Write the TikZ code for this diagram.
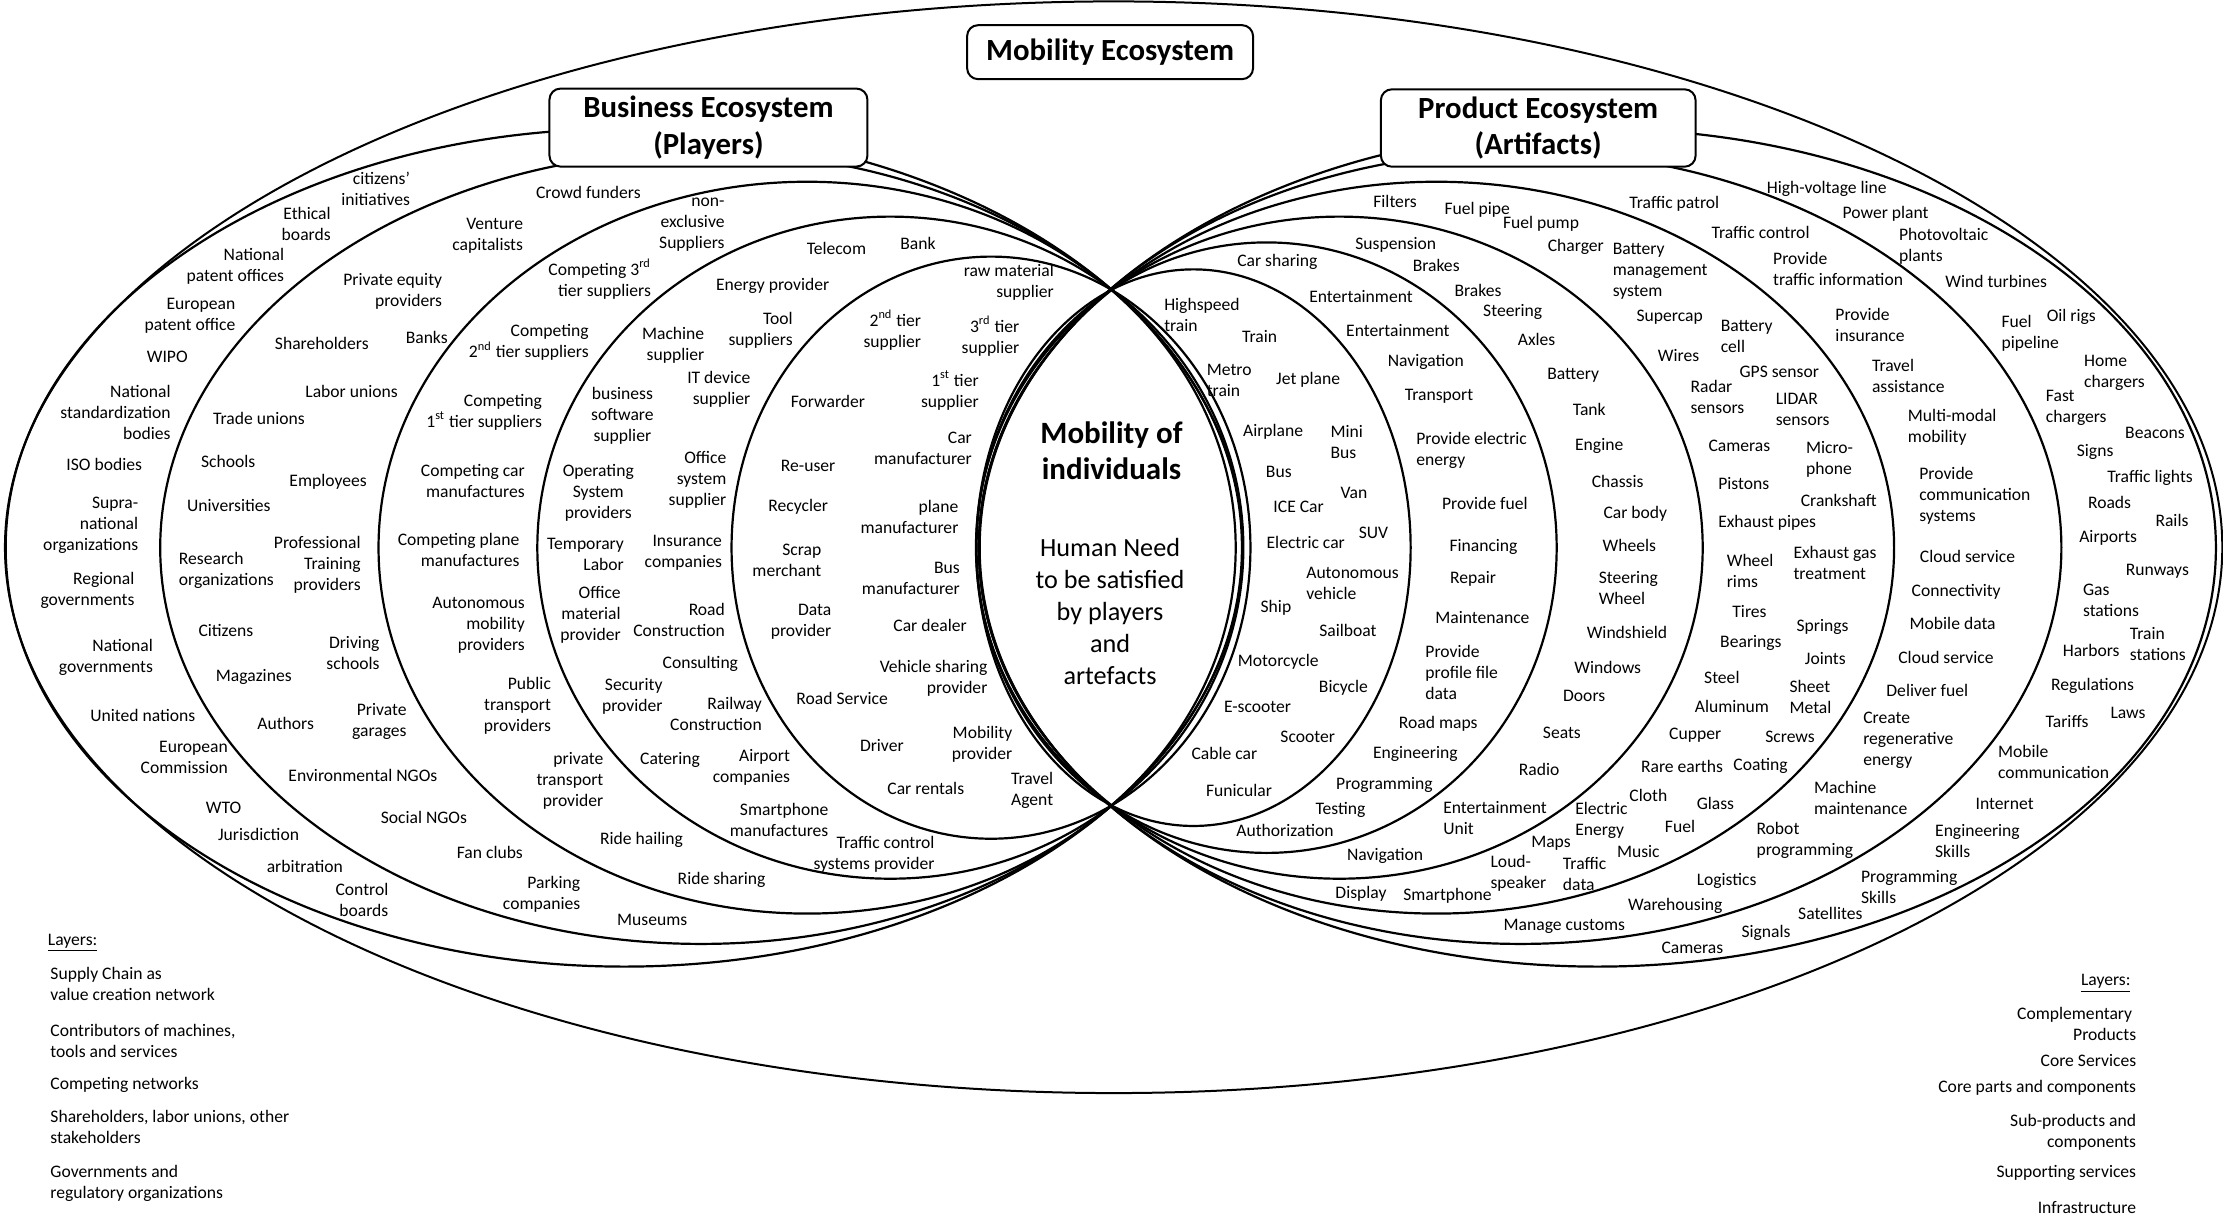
\documentclass[tikz,border=0pt]{standalone}
\usepackage{fontspec}
\setmainfont{Carlito}
\begin{document}
\begin{tikzpicture}[x=0.709pt,y=-0.709pt,
  ring/.style={line width=1.1pt},
  lbl/.style={font=\fontsize{8.8}{10.5}\selectfont, inner sep=0pt},
  lr/.style={lbl, align=right},
  ll/.style={lbl, align=left},
  lc/.style={lbl, align=center},
  ecobox/.style={draw, fill=white, line width=1pt, rounded corners=5.5pt, align=center,
    font=\fontsize{15.4}{18.4}\selectfont\bfseries}]
\useasboundingbox (0,0) rectangle (1568,860.5);

% mobility ecosystem
\draw[line width=1pt] (785.5,386) ellipse [x radius=782, y radius=385];
% business ecosystem (players)
\foreach \cx/\a/\b in {699/183/205.3, 628/249/233.5, 569.3/302.3/258.1, 494.5/381.5/279.5, 440.3/436.3/295.5}
  \draw[ring] (\cx,386.3) ellipse [x radius=\a, y radius=\b];
% product ecosystem (artifacts)
\foreach \cx/\a/\b in {841.8/153.2/196.3, 893.4/204.6/215.3, 944.7/256.3/233.5, 1013.2/322.8/258.1, 1072.5/381.5/279.5, 1126.7/436.3/295.5}
  \draw[ring] (\cx,386.3) ellipse [x radius=\a, y radius=\b];

\node[ecobox, minimum width=143pt, minimum height=27pt] (mob) at (783,36.8) {Mobility Ecosystem};
\node[ecobox, minimum width=159pt, minimum height=39pt] (bus) at (499.7,90) {Business Ecosystem\\(Players)};
\node[ecobox, minimum width=157.4pt, minimum height=38.7pt] (prod) at (1085,90.3) {Product Ecosystem\\(Artifacts)};

% centre
\node[font=\fontsize{15.5}{18.4}\selectfont\bfseries, align=center, inner sep=0pt] (ind) at (784,318) {Mobility of\\individuals};
\node[font=\fontsize{13.1}{16}\selectfont, align=center, inner sep=0pt] (need) at (783,431) {Human Need\\to be satisfied\\by players\\and\\artefacts};

% players
\foreach \x/\y/\t [count=\i] in {
 265/133.5/{citizens'\\initiatives}, 216/158/{Ethical\\boards}, 166/188/{National\\patent offices},
 134/223/{European\\patent office}, 118/252/WIPO, 81.5/291/{National\\standardization\\bodies},
 73.5/327.5/ISO bodies, 64/370.5/{Supra-\\national\\organizations}, 61.7/416.5/{Regional\\governments},
 74.7/463.5/{National\\governments}, 100.7/504.5/United nations, 130/534/{European\\Commission},
 157.7/569.5/WTO, 182.4/588.5/Jurisdiction, 215/611/arbitration, 255.3/634.6/{Control\\boards},
 415/135.5/Crowd funders, 344/166/{Venture\\capitalists}, 277/205.5/{Private equity\\providers},
 227/242/Shareholders, 301/238/Banks, 248/276.3/Labor unions, 182.7/295/Trade unions,
 161/325.6/Schools, 231.4/339.8/Employees, 161.4/356.7/Universities, 223.8/398.6/{Professional\\Training\\providers},
 249/460.6/{Driving\\schools}, 159.3/444.4/Citizens, 179/477.3/Magazines, 201.5/510/Authors,
 267.6/508.7/{Private\\garages}, 256/547/Environmental NGOs, 299/576.5/Social NGOs, 345.5/601/Fan clubs,
 382/631/{Parking\\companies}, 460/649/Museums,
 488/158.4/{non-\\exclusive\\Suppliers}, 423/196.7/{Competing 3\textsuperscript{rd}\\tier suppliers},
 373/241.6/{Competing\\2\textsuperscript{nd} tier suppliers}, 341.5/290.5/{Competing\\1\textsuperscript{st} tier suppliers},
 333.5/339/{Competing car\\manufactures}, 323.5/388/{Competing plane\\manufactures},
 337.6/441/{Autonomous\\mobility\\providers}, 365/498/{Public\\transport\\providers},
 402/551/{private\\transport\\provider}, 452.5/592.5/Ride hailing, 509/620.7/Ride sharing,
 590/175/Telecom, 647.5/171.6/Bank, 545/202/Energy provider, 536.5/233/{Tool\\suppliers},
 474.8/243.4/{Machine\\supplier}, 507/274.5/{IT device\\supplier}, 492/338.5/{Office\\system\\supplier},
 413/391/{Temporary\\Labor}, 482/389.7/{Insurance\\companies}, 416.5/434/{Office\\material\\provider},
 479/437/{Road\\Construction}, 494/468/Consulting, 446/491/{Security\\provider},
 505/503.5/{Railway\\Construction}, 472.6/536/Catering, 530/541.6/{Airport\\companies},
 549.5/578.7/{Smartphone\\manufactures}, 616.5/602.5/{Traffic control\\systems provider},
 711.6/199/{raw material\\supplier}, 629.4/233/{2\textsuperscript{nd} tier\\supplier},
 698.6/237/{3\textsuperscript{rd} tier\\supplier}, 670/275.6/{1\textsuperscript{st}\ tier\\supplier},
 584/283/Forwarder, 651/316/{Car\\manufacturer}, 570/328.5/Re-user, 563/357.4/Recycler,
 641.5/364.7/{plane\\manufacturer}, 555/395.5/{Scrap\\merchant}, 642.5/408/{Bus\\manufacturer},
 565/438.8/{Data\\provider}, 656/441/Car dealer, 658.5/478.8/{Vehicle sharing\\provider},
 594/492.6/Road Service, 692.7/525/{Mobility\\provider}, 622/526/Driver, 728/557.5/{Travel\\Agent},
 653/556/Car rentals}
  \node[lr] (pl\i) at (\x,\y) {\t};
\node[lc] (plsw) at (439,293.5) {business\\software\\supplier};
\node[lc] (plos) at (422,347.5) {Operating\\System\\providers};
\node[ll] (plro) at (159.7,402.4) {Research\\organizations};

% artifacts
\foreach \x/\y/\t [count=\i] in {
 847.8/222/{Highspeed\\train}, 888.5/237.5/Train, 867/268.4/{Metro\\train}, 922.7/267.6/Jet plane,
 898/304.6/Airplane, 950/312/{Mini\\Bus}, 902/332.7/Bus, 955/348/Van, 916/357.4/ICE Car, 968.8/376/SUV,
 921/382.8/Electric car, 954/411.8/{Autonomous\\vehicle}, 900/429/Ship, 950.8/444.4/Sailboat,
 901.6/466.7/Motorcycle, 947.6/484.8/Bicycle, 887/498.5/E-scooter, 922.4/519.6/Scooter, 863.6/531.4/Cable car,
 874/557.2/Funicular,
 901/184.6/Car sharing, 960/209.3/Entertainment, 986/232.8/Entertainment, 1005.7/255/Navigation,
 1015/279.8/Transport, 1038/317.8/{Provide electric\\energy}, 1047.3/355/Provide fuel, 1046.4/385.6/Financing,
 1039/408/Repair, 1045.6/435.5/Maintenance, 1031/474.4/{Provide\\profile file\\data}, 1014.5/510.2/Road maps,
 998.3/532/Engineering, 976.5/553.7/Programming, 945.5/571.4/Testing, 906.4/585.5/Authorization,
 1054.5/577.2/{Entertainment\\Unit}, 977/603.6/Navigation, 960/630.6/Display, 1021/631.8/Smartphone,
 984/142.3/Filters, 1042/148/Fuel pipe, 1087/158/Fuel pump, 984.5/172.8/Suspension, 1013/187/Brakes,
 1111.5/174/Charger, 1042.5/204.6/Brakes, 1067/219.8/Steering, 1083.8/239.4/Axles, 1109.6/265/Battery,
 1121/288.7/Tank, 1128/314.4/Engine, 1141/339.8/Chassis, 1153.5/362.6/Car body, 1149.3/384.9/Wheels,
 1148.5/414.8/{Steering\\Wheel}, 1147.6/446/Windshield, 1134/470.7/Windows, 1117.4/490.7/Doors,
 1101.7/516.6/Seats, 1085.6/543/Radio, 1129.6/579/{Electric\\Energy}, 1162.7/560.8/Cloth, 1185/583/Fuel,
 1094/594.9/Maps, 1155.6/600.7/Music, 1071/615.8/{Loud-\\speaker}, 1117.7/616.6/{Traffic\\data},
 1181/144/Traffic patrol, 1171/191.4/{Battery\\management\\system}, 1241.8/163.9/Traffic control,
 1177.7/224/Supercap, 1232/237/{Battery\\cell}, 1184/251/Wires, 1255/262/GPS sensor,
 1211.4/280/{Radar\\sensors}, 1271.5/289/{LIDAR\\sensors}, 1226.9/314.4/Cameras, 1290.5/324/{Micro-\\phone},
 1230/341.4/Pistons, 1297/353.2/Crankshaft, 1246.5/368.7/Exhaust pipes, 1234.4/403/{Wheel\\rims},
 1294.3/396.8/{Exhaust gas\\treatment}, 1234/431.5/Tires, 1285.5/442/Springs, 1235/453.3/Bearings,
 1287.5/464.4/Joints, 1214.5/477.8/Steel, 1277/491.3/{Sheet\\Metal}, 1221.6/498.5/Aluminum, 1195.7/518.5/Cupper,
 1262.6/519.6/Screws, 1186.4/540.3/Rare earths, 1241.8/540.3/Coating, 1210/566.6/Glass,
 1288.5/133.3/High-voltage line, 1330/150.5/Power plant, 1371/174/{Photovoltaic\\plants},
 1296.5/189.9/{Provide\\traffic information}, 1408/198.7/Wind turbines, 1319/229/{Provide\\insurance},
 1346/265/{Travel\\assistance}, 1377/301.3/{Multi-modal\\mobility},
 1393/350/{Provide\\communication\\systems}, 1387.8/392.2/Cloud service, 1379.8/417.8/Connectivity,
 1377.3/439.7/Mobile data, 1372.6/463.6/Cloud service, 1359.4/486.7/Deliver fuel,
 1346/522.5/{Create\\regenerative\\energy}, 1312.5/562.5/{Machine\\maintenance},
 1273/592.9/{Robot\\programming}, 1217.9/621.2/Logistics, 1181.6/639/Warehousing, 1103.4/653.2/Manage customs,
 1432/234.8/{Fuel\\pipeline}, 1461/223.4/Oil rigs, 1491.4/263/{Home\\chargers}, 1464.5/288/{Fast\\chargers},
 1520/305.2/Beacons, 1477.8/319/Signs, 1516.6/337/Traffic lights, 1488/354.6/Roads, 1532/367.3/Rails,
 1487/379.7/Airports, 1521.7/402.6/Runways, 1489/423.8/{Gas\\stations}, 1522/454/{Train\\stations},
 1475/459/Harbors, 1476/484/Regulations, 1501/503/Laws, 1458/509/Tariffs,
 1448.5/537.6/{Mobile\\communication}, 1414/567/Internet, 1394.8/593.5/{Engineering\\Skills},
 1346.7/625.8/{Programming\\Skills}, 1291/644.2/Satellites, 1245.7/658.3/Signals, 1193.7/668.5/Cameras}
  \node[ll] (ar\i) at (\x,\y) {\t};

% layers
\node[ll, anchor=west] (layl) at (33.5,665) {\underline{Layers:}};
\foreach \y/\t [count=\i] in {694/{Supply Chain as\\value creation network},
  734/{Contributors of machines,\\tools and services}, 765.5/{Competing networks},
  795/{Shareholders, labor unions, other\\stakeholders}, 835/{Governments and\\regulatory organizations}}
  \node[ll, anchor=west] (legl\i) at (35.3,\y) {\t};
\node[lr, anchor=east] (layr) at (1503,693.5) {\underline{Layers:}};
\foreach \y/\t [count=\i] in {722/{Complementary\hspace*{2pt}\\Products}, 748/{Core Services},
  767.6/{Core parts and components}, 798.5/{Sub-products and\\components},
  827/{Supporting services}, 852/{Infrastructure}}
  \node[lr, anchor=east] (legr\i) at (1507,\y) {\t};
\end{tikzpicture}
\end{document}
